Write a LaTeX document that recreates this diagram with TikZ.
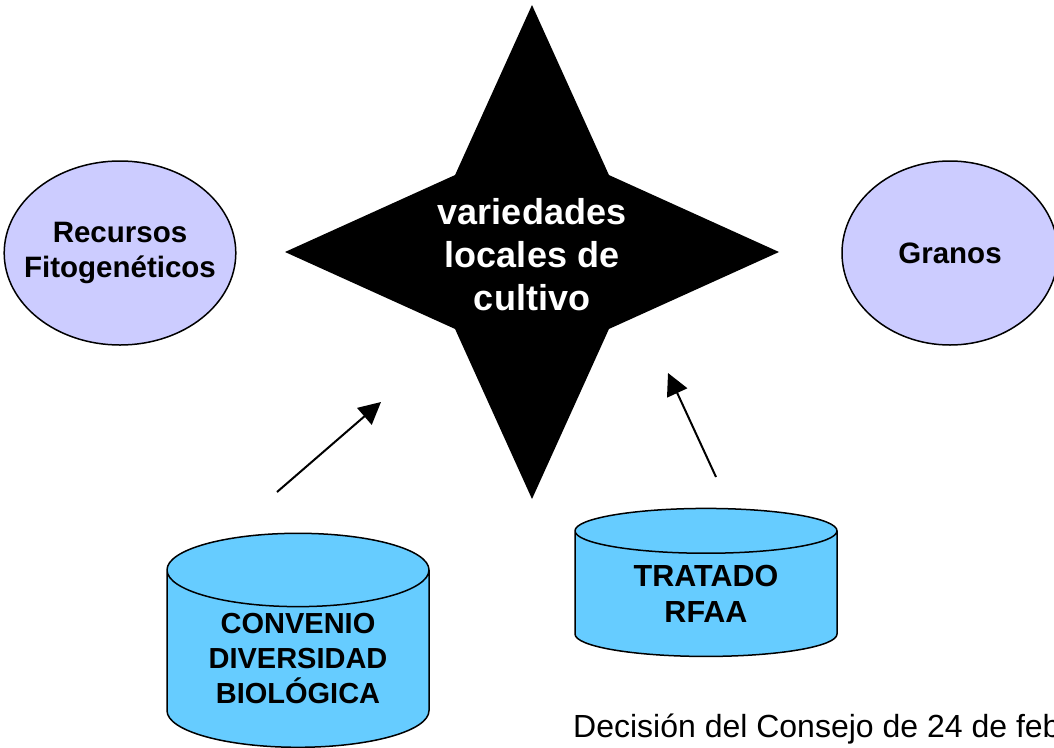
\documentclass[tikz,border=0pt]{standalone}
\usepackage{fontspec}
\setmainfont{Liberation Sans}
\usepackage{tikz}
\usetikzlibrary{shapes.geometric,arrows.meta}
\definecolor{lavanda}{HTML}{CCCCFF}
\definecolor{celeste}{HTML}{66CCFF}

\begin{document}
\begin{tikzpicture}[x=1pt,y=-1pt,
	oval/.style={shape=ellipse,draw=black,line width=1.5pt,fill=lavanda,inner ysep=0pt,inner xsep=-14pt,
		align=center,font=\fontsize{29.5}{35}\selectfont\bfseries},
	tambor/.style={shape=cylinder,shape border rotate=90,draw=black,line width=1.5pt,
		fill=celeste,inner sep=0pt,minimum width=262pt,align=center},
	flecha/.style={line width=2pt,-{Triangle[length=22pt,width=22pt]}}]
	\useasboundingbox (0,0) rectangle (1054,747);
	\node[shape=star,star points=4,star point ratio=2.27,minimum size=494pt,inner sep=0pt,
		fill=black] (E) at (532,252) {};
	\node[text=white,align=center,font=\fontsize{36}{43}\selectfont\bfseries]
		(V) at (532,255) {variedades\\locales de\\cultivo};
	\node[oval,minimum width=226pt,minimum height=184pt] (R) at (120,253) {Recursos\\Fitogenéticos};
	\node[oval,minimum width=216pt,minimum height=184pt] (G) at (950,253) {Granos};
	\node[tambor,minimum height=214pt,aspect=0.41,font=\fontsize{29}{35}\selectfont\bfseries]
		(CDB) at (298,659) {CONVENIO\\DIVERSIDAD\\BIOLÓGICA};
	\node[tambor,minimum height=148pt,aspect=0.31,font=\fontsize{30.5}{36}\selectfont\bfseries]
		(TR) at (706,594) {TRATADO\\RFAA};
	\node[anchor=base west,inner sep=0pt,font=\fontsize{32}{36}\selectfont] (DC) at (573,737)
		{Decisión del Consejo de 24 de feb};
	\coordinate (c1) at (277,492);
	\coordinate (c2) at (381,402);
	\coordinate (t1) at (716,477);
	\coordinate (t2) at (668,373);
	\path [flecha] (c1) edge (c2);
	\path [flecha] (t1) edge (t2);
\end{tikzpicture}
\end{document}
